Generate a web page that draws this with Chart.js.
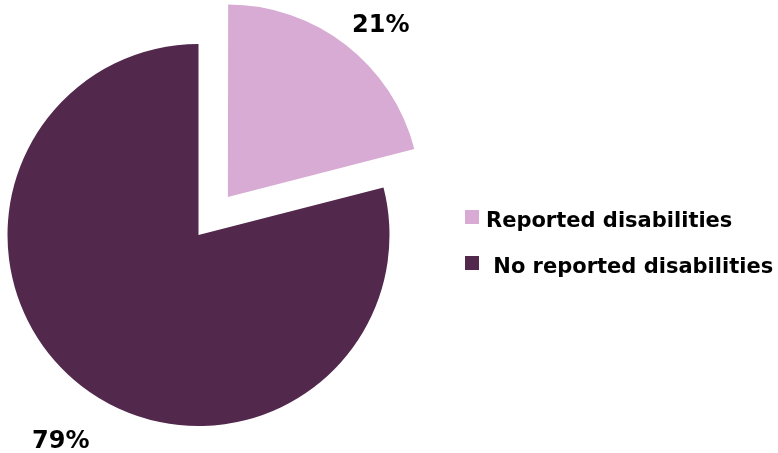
<!DOCTYPE html>
<html lang="en">
  <head>
    <meta charset="UTF-8" />
    <title>Reported disabilities</title>
    <script src="https://cdn.jsdelivr.net/npm/chart.js"></script>
    <style>
      body {
        margin: 0;
        padding: 0;
        background: #fff;
      }
      .wrap {
        width: 778px;
        height: 453px;
      }
    </style>
  </head>
  <body>
    <div class="wrap">
      <canvas id="pieChart" width="778" height="453"></canvas>
    </div>

    <script>
      const categories = ["Reported disabilities", " No reported disabilities"];
      const shares = [21, 79];
      const sliceColors = ["#d7abd3", "#52284d"];

      // percentage labels sit outside each slice, near its middle angle
      const pctLabels = {
        id: "pctLabels",
        afterDatasetsDraw(chart, args, opts) {
          const ctx = chart.ctx;
          const arcs = chart.getDatasetMeta(0).data;
          ctx.save();
          ctx.font = "bold 24px 'DejaVu Sans'";
          ctx.fillStyle = "#000";
          ctx.textAlign = "center";
          ctx.textBaseline = "middle";
          arcs.forEach((arc, i) => {
            const p = arc.getProps(["x", "y", "startAngle", "endAngle", "outerRadius"], true);
            const mid = (p.startAngle + p.endAngle) / 2;
            // chart.js v4 draws an arc pushed out by offset / 4
            const off = (arc.options.offset || 0) / 4;
            const cx = p.x + Math.cos(mid) * off;
            const cy = p.y + Math.sin(mid) * off;
            const a = mid + opts.turn[i];
            const d = p.outerRadius * opts.factors[i];
            ctx.fillText(shares[i] + "%", cx + Math.cos(a) * d, cy + Math.sin(a) * d);
          });
          ctx.restore();
        },
      };

      // simple legend on the right
      const sideLegend = {
        id: "sideLegend",
        afterDraw(chart, args, opts) {
          const ctx = chart.ctx;
          ctx.save();
          ctx.font = "bold 21px 'DejaVu Sans'";
          ctx.textBaseline = "alphabetic";
          categories.forEach((name, i) => {
            const base = opts.y + i * opts.step;
            ctx.fillStyle = sliceColors[i];
            ctx.fillRect(opts.x, base - 17, 14, 14);
            ctx.fillStyle = "#000";
            ctx.fillText(name, opts.x + 21, base);
          });
          ctx.restore();
        },
      };

      new Chart(document.getElementById("pieChart"), {
        type: "pie",
        data: {
          labels: categories,
          datasets: [
            {
              data: shares,
              backgroundColor: sliceColors,
              borderWidth: 0,
              offset: [192, 0],
            },
          ],
        },
        options: {
          responsive: false,
          animation: false,
          radius: 191,
          layout: { padding: { left: 0, right: 381, top: 17, bottom: 0 } },
          plugins: {
            legend: { display: false },
            tooltip: { enabled: false },
            pctLabels: { factors: [1.2, 1.3], turn: [0.07, -0.072] },
            sideLegend: { x: 465, y: 227, step: 46 },
          },
        },
        plugins: [pctLabels, sideLegend],
      });
    </script>
  </body>
</html>
